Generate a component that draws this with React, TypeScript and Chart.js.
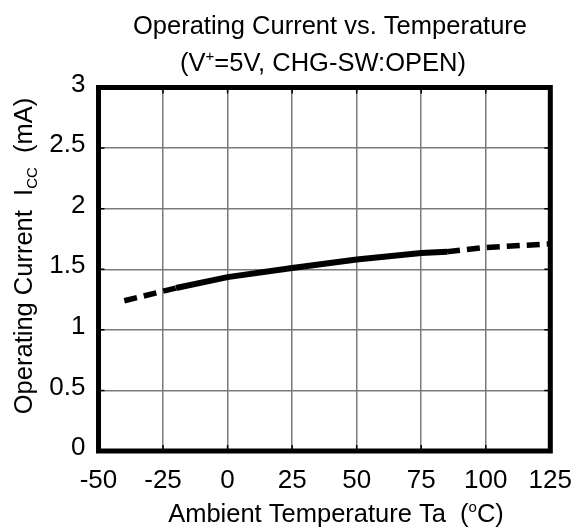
import React, { useEffect, useRef } from "react";
import { Chart, registerables } from "chart.js";

Chart.register(...registerables);

// ---- data ----
const lowDashed = [
  { x: -40, y: 1.24 },
  { x: -20, y: 1.345 },
];
const solidPart = [
  { x: -20, y: 1.345 },
  { x: 0, y: 1.435 },
  { x: 25, y: 1.51 },
  { x: 50, y: 1.58 },
  { x: 75, y: 1.635 },
  { x: 85, y: 1.645 },
];
const highDashed = [
  { x: 85, y: 1.645 },
  { x: 100, y: 1.68 },
  { x: 125, y: 1.71 },
];
const xTicks = [-50, -25, 0, 25, 50, 75, 100, 125];
const yTicks = [0, 0.5, 1, 1.5, 2, 2.5, 3];

const titleText = "Operating Current vs. Temperature";
const subtitleParts = [
  { t: "(V" },
  { t: "+", s: "sup" },
  { t: "=5V, CHG-SW:OPEN)" },
];
const xTitleParts = [
  { t: "Ambient Temperature Ta  (" },
  { t: "o", s: "sup" },
  { t: "C)" },
];
const yTitleParts = [
  { t: "Operating Current  I" },
  { t: "CC", s: "sub" },
  { t: "  (mA)" },
];

const FAMILY = '"Liberation Sans", Arial, sans-serif';
const BIG = 25.5;
const TICK = 26;
const SMALL = 15;

type Part = { t: string; s?: string };

function drawRich(
  ctx: CanvasRenderingContext2D,
  parts: Part[],
  cx: number,
  cy: number,
  rotate: boolean
) {
  ctx.save();
  ctx.translate(cx, cy);
  if (rotate) ctx.rotate(-Math.PI / 2);
  const widths = parts.map((p) => {
    ctx.font = `${p.s ? SMALL : BIG}px ${FAMILY}`;
    return ctx.measureText(p.t).width;
  });
  const total = widths.reduce((a, b) => a + b, 0);
  let x = -total / 2;
  const base = (BIG * 0.716) / 2;
  ctx.fillStyle = "#000";
  ctx.textBaseline = "alphabetic";
  ctx.textAlign = "left";
  parts.forEach((p, i) => {
    ctx.font = `${p.s ? SMALL : BIG}px ${FAMILY}`;
    const dy = p.s === "sup" ? -10 : p.s === "sub" ? 5 : 0;
    ctx.fillText(p.t, x, base + dy);
    x += widths[i];
  });
  ctx.restore();
}

const framePlugin = {
  id: "frame",
  afterDatasetsDraw(chart: any) {
    const { ctx, chartArea: a, scales } = chart;
    ctx.save();
    ctx.strokeStyle = "#000";
    ctx.lineWidth = 1.5;
    const tl = 6;
    xTicks.forEach((v) => {
      const px = scales.x.getPixelForValue(v);
      ctx.beginPath();
      ctx.moveTo(px, a.bottom);
      ctx.lineTo(px, a.bottom - tl);
      ctx.moveTo(px, a.top);
      ctx.lineTo(px, a.top + tl);
      ctx.stroke();
    });
    yTicks.forEach((v) => {
      const py = scales.y.getPixelForValue(v);
      ctx.beginPath();
      ctx.moveTo(a.left, py);
      ctx.lineTo(a.left + tl, py);
      ctx.moveTo(a.right, py);
      ctx.lineTo(a.right - tl, py);
      ctx.stroke();
    });
    ctx.lineWidth = 5;
    ctx.strokeRect(a.left, a.top, a.right - a.left, a.bottom - a.top);
    ctx.restore();
  },
  afterDraw(chart: any) {
    const { ctx } = chart;
    ctx.save();
    ctx.fillStyle = "#000";
    ctx.font = `${BIG}px ${FAMILY}`;
    ctx.textAlign = "center";
    ctx.textBaseline = "alphabetic";
    ctx.fillText(titleText, 330, 25 + (BIG * 0.716) / 2);
    ctx.restore();
    drawRich(ctx, subtitleParts, 323, 62, false);
    drawRich(ctx, xTitleParts, 336, 513, false);
    drawRich(ctx, yTitleParts, 23, 256, true);
  },
};

export default function App() {
  const ref = useRef<HTMLCanvasElement | null>(null);
  useEffect(() => {
    document.body.style.margin = "0";
    const canvas = ref.current!;
    const lineCommon = {
      borderColor: "#000",
      borderWidth: 5.5,
      pointRadius: 0,
      pointHoverRadius: 0,
      tension: 0,
      fill: false,
      borderCapStyle: "butt" as const,
    };
    const chart = new Chart(canvas, {
      type: "line",
      data: {
        datasets: [
          { ...lineCommon, label: "low", data: lowDashed, borderDash: [13, 7] },
          { ...lineCommon, label: "typ", data: solidPart, borderWidth: 6 },
          { ...lineCommon, label: "high", data: highDashed, borderDash: [13, 7] },
        ],
      },
      options: {
        animation: false,
        responsive: false,
        events: [],
        layout: { padding: { top: 87.5, right: 32.5, bottom: 0, left: 0 } },
        plugins: {
          legend: { display: false },
          tooltip: { enabled: false },
          title: { display: false },
        },
        scales: {
          x: {
            type: "linear",
            min: -50,
            max: 125,
            afterBuildTicks: (s: any) => {
              s.ticks = xTicks.map((v) => ({ value: v }));
            },
            afterFit: (s: any) => {
              s.height = 79;
            },
            grid: { color: "#7a7a7a", lineWidth: 1.5, drawTicks: false },
            border: { display: false },
            ticks: {
              color: "#000",
              font: { family: FAMILY, size: TICK },
              padding: 14,
              maxRotation: 0,
              autoSkip: false,
              callback: (v: any) => String(v),
            },
          },
          y: {
            type: "linear",
            min: 0,
            max: 3,
            afterBuildTicks: (s: any) => {
              s.ticks = yTicks.map((v) => ({ value: v }));
            },
            afterFit: (s: any) => {
              s.width = 98.5;
            },
            grid: { color: "#7a7a7a", lineWidth: 1.5, drawTicks: false },
            border: { display: false },
            ticks: {
              color: "#000",
              font: { family: FAMILY, size: TICK },
              padding: 13,
              labelOffset: -3,
              autoSkip: false,
              callback: (v: any) => String(v),
            },
          },
        },
      },
      plugins: [framePlugin],
    } as any);
    return () => chart.destroy();
  }, []);
  return (
    <div style={{ width: 586, height: 530, position: "relative" }}>
      <canvas ref={ref} width={586} height={530} style={{ display: "block" }} />
    </div>
  );
}
